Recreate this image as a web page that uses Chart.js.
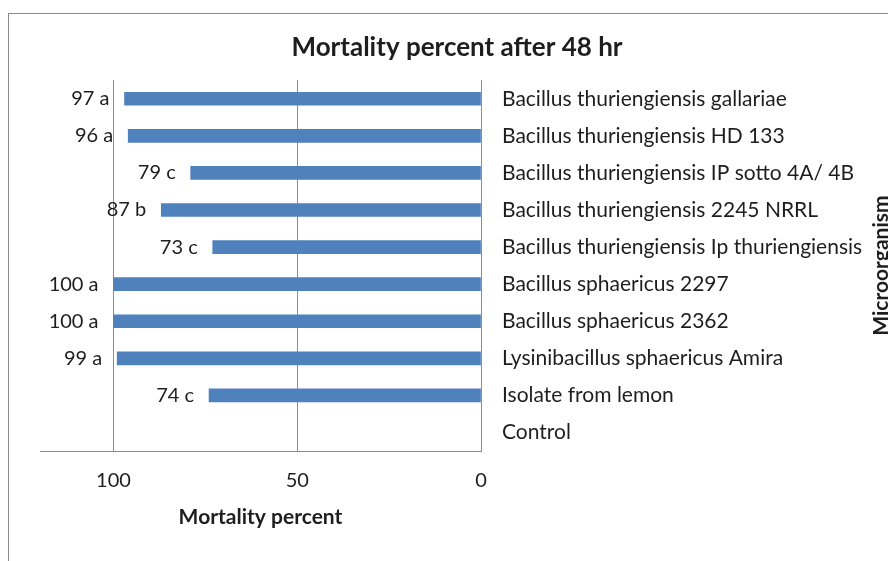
<!DOCTYPE html>
<html>
<head>
<meta charset="utf-8">
<script src="https://cdn.jsdelivr.net/npm/chart.js@4/dist/chart.umd.min.js"></script>
<style>
  html, body { margin: 0; padding: 0; background: #ffffff; }
  #wrap { position: relative; width: 888px; height: 561px; overflow: hidden; }
  #frame { position: absolute; left: 8px; top: 13px; width: 1000px; height: 700px;
           border: 1.5px solid #8c8c8c; box-sizing: border-box; }
  canvas { position: absolute; left: 0; top: 0; }
</style>
</head>
<body>
<div id="wrap">
  <div id="frame"></div>
  <canvas id="c" width="888" height="561"></canvas>
</div>
<script>
const categories = [
  "Bacillus thuriengiensis gallariae",
  "Bacillus thuriengiensis HD 133",
  "Bacillus thuriengiensis IP sotto 4A/ 4B",
  "Bacillus thuriengiensis 2245 NRRL",
  "Bacillus thuriengiensis Ip thuriengiensis",
  "Bacillus sphaericus 2297",
  "Bacillus sphaericus 2362",
  "Lysinibacillus sphaericus Amira",
  "Isolate from lemon",
  "Control"
];
const mortality = [97, 96, 79, 87, 73, 100, 100, 99, 74, 0];
const groups = ["a", "a", "c", "b", "c", "a", "a", "a", "c", ""];
const xTicks = [0, 50, 100];
const chartTitle = "Mortality percent after 48 hr";
const xTitle = "Mortality percent";
const yTitle = "Microorganism";

const FONT = "Lato, 'Open Sans', sans-serif";
const TEXT = "#1e1e1e";
const GRID = "#8c8c8c";
const BAR = "#4f81bd";

const barLabels = {
  id: 'barLabels',
  afterDatasetsDraw(chart) {
    const ctx = chart.ctx;
    const meta = chart.getDatasetMeta(0);
    ctx.save();
    ctx.font = "20px " + FONT;
    ctx.fillStyle = TEXT;
    ctx.textAlign = "right";
    ctx.textBaseline = "middle";
    meta.data.forEach((el, i) => {
      if (!groups[i]) return;
      const txt = mortality[i] + " " + groups[i];
      ctx.fillText(txt, el.x - 15, el.y);
    });
    ctx.restore();
  }
};

const yTitlePlugin = {
  id: 'yTitlePlugin',
  afterDraw(chart) {
    const ctx = chart.ctx;
    const a = chart.chartArea;
    ctx.save();
    ctx.font = "bold 21px " + FONT;
    ctx.fillStyle = TEXT;
    ctx.textAlign = "center";
    ctx.textBaseline = "middle";
    ctx.translate(881, (a.top + a.bottom) / 2);
    ctx.rotate(-Math.PI / 2);
    ctx.fillText(yTitle, 0, 0);
    ctx.restore();
  }
};

new Chart(document.getElementById('c'), {
  type: 'bar',
  data: {
    labels: categories,
    datasets: [{
      data: mortality,
      backgroundColor: (c) => (c.raw ? BAR : 'rgba(0,0,0,0)'),
      borderWidth: 0,
      barThickness: 13
    }]
  },
  plugins: [barLabels, yTitlePlugin],
  options: {
    indexAxis: 'y',
    responsive: false,
    animation: false,
    devicePixelRatio: 1,
    layout: { padding: { left: 40, top: 30, right: 14, bottom: 0 } },
    plugins: {
      legend: { display: false },
      tooltip: { enabled: false },
      title: {
        display: true,
        text: chartTitle,
        color: TEXT,
        font: { family: FONT, size: 26, weight: 'bold' },
        padding: { top: 2, bottom: 17 }
      }
    },
    scales: {
      x: {
        reverse: true,
        min: 0,
        max: 120,
        afterBuildTicks(scale) { scale.ticks = xTicks.map(v => ({ value: v })); },
        afterFit(scale) { scale.height = 110; },
        grid: { color: GRID, drawTicks: false, lineWidth: 1 },
        border: { display: true, color: GRID, width: 1 },
        ticks: { color: TEXT, font: { family: FONT, size: 20 }, padding: 18 },
        title: {
          display: true, text: xTitle, color: TEXT,
          font: { family: FONT, size: 21, weight: 'bold' },
          padding: { top: 0, bottom: 31 }
        }
      },
      y: {
        position: 'right',
        afterFit(scale) { scale.width = 393; },
        grid: { display: false, drawTicks: false },
        border: { display: true, color: GRID, width: 1 },
        ticks: { color: TEXT, font: { family: FONT, size: 21 }, padding: 21, autoSkip: false }
      }
    }
  }
});
</script>
</body>
</html>
